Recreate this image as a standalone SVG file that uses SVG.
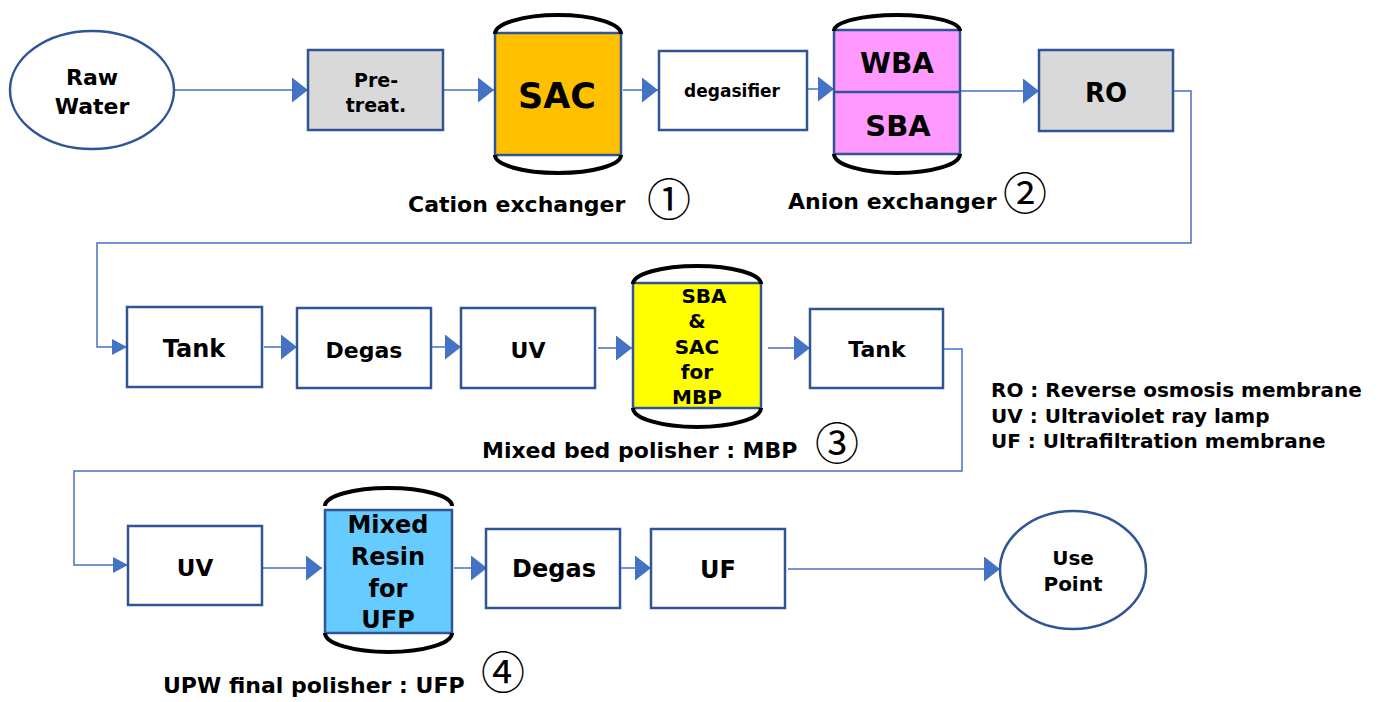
<svg xmlns="http://www.w3.org/2000/svg" width="1381" height="702" viewBox="0 0 1381 702">
<style>
text{font-family:"DejaVu Sans","Liberation Sans",sans-serif;font-weight:bold;fill:#000}
.c{text-anchor:middle}
.box{stroke:#2f5597;stroke-width:2.5}
.w{fill:#fff}
.g{fill:#d9d9d9}
.arc{fill:none;stroke:#000;stroke-width:4}
.con{fill:none;stroke:#4472c4;stroke-width:1.5}
.num{font-family:"Noto Sans CJK JP","DejaVu Sans",sans-serif;font-weight:normal;font-size:44px;text-anchor:middle}
</style>
<defs>
<marker id="arr" markerUnits="userSpaceOnUse" viewBox="0 0 16 25" refX="16" refY="12.5" markerWidth="16" markerHeight="25" orient="auto"><path d="M0,0 L16,12.5 L0,25 Z" fill="#4472c4"/></marker>
<marker id="arrS" markerUnits="userSpaceOnUse" viewBox="0 0 15 16" refX="15" refY="8" markerWidth="15" markerHeight="16" orient="auto"><path d="M0,0 L15,8 L0,16 Z" fill="#4472c4"/></marker>
</defs>
<rect width="1381" height="702" fill="#fff"/>
<g id="connectors">
<path class="con" d="M174,90 H308" marker-end="url(#arr)"/>
<path class="con" d="M443,90 H494" marker-end="url(#arr)"/>
<path class="con" d="M623,90 H658" marker-end="url(#arr)"/>
<path class="con" d="M795,89 H834" marker-end="url(#arr)"/>
<path class="con" d="M960,91 H1039" marker-end="url(#arr)"/>
<path class="con" d="M1173,91 H1191 V243 H97 V347 H127" marker-end="url(#arrS)"/>
<path class="con" d="M264,347 H297" marker-end="url(#arr)"/>
<path class="con" d="M431,347 H461" marker-end="url(#arr)"/>
<path class="con" d="M598,348 H632" marker-end="url(#arr)"/>
<path class="con" d="M768,348 H810" marker-end="url(#arr)"/>
<path class="con" d="M943,349 H962 V471 H74 V565 H128" marker-end="url(#arrS)"/>
<path class="con" d="M262,568 H322" marker-end="url(#arr)"/>
<path class="con" d="M454,568 H487" marker-end="url(#arr)"/>
<path class="con" d="M620,568 H651" marker-end="url(#arr)"/>
<path class="con" d="M788,569 H1000" marker-end="url(#arr)"/>
</g>
<g id="raw-water">
<ellipse class="box w" cx="92" cy="90" rx="82" ry="59"/>
<text class="c" x="92" y="85" font-size="22">Raw</text>
<text class="c" x="92" y="114" font-size="22">Water</text>
</g>
<g id="pretreat">
<rect class="box g" x="308" y="50" width="135" height="80"/>
<text class="c" x="376" y="87" font-size="19">Pre-</text>
<text class="c" x="376" y="112" font-size="19">treat.</text>
</g>
<g id="sac">
<rect class="box" fill="#ffc000" x="495" y="33" width="126" height="122"/>
<path class="arc" d="M495,34 A63,19 0 0 1 621,34"/>
<path class="arc" d="M495,155 A63,18 0 0 0 621,155"/>
<text class="c" x="557" y="108" font-size="35">SAC</text>
</g>
<g id="degasifier">
<rect class="box w" x="659" y="51" width="148" height="79"/>
<text class="c" x="732" y="97" font-size="17">degasifier</text>
</g>
<g id="wba-sba">
<rect class="box" fill="#ff99ff" x="834" y="30" width="126" height="124"/>
<line class="box" x1="834" y1="92" x2="960" y2="92"/>
<path class="arc" d="M834,31 A63,16 0 0 1 960,31"/>
<path class="arc" d="M834,154 A63,19 0 0 0 960,154"/>
<text class="c" x="897" y="73" font-size="28">WBA</text>
<text class="c" x="898" y="136" font-size="29">SBA</text>
</g>
<g id="ro">
<rect class="box g" x="1039" y="50" width="134" height="81"/>
<text class="c" x="1106" y="102" font-size="26">RO</text>
</g>
<g id="tank1">
<rect class="box w" x="127" y="307" width="135" height="80"/>
<text class="c" x="194" y="357" font-size="24">Tank</text>
</g>
<g id="degas1">
<rect class="box w" x="297" y="308" width="134" height="80"/>
<text class="c" x="364" y="358" font-size="22">Degas</text>
</g>
<g id="uv1">
<rect class="box w" x="461" y="308" width="134" height="80"/>
<text class="c" x="528" y="358" font-size="22">UV</text>
</g>
<g id="mbp">
<rect class="box" fill="#ffff00" x="633" y="283" width="128" height="125"/>
<path class="arc" d="M633,284 A64,18 0 0 1 761,284"/>
<path class="arc" d="M633,408 A64,19 0 0 0 761,408"/>
<text class="c" x="704" y="303" font-size="20">SBA</text>
<text class="c" x="697" y="328" font-size="20">&amp;</text>
<text class="c" x="697" y="354" font-size="20">SAC</text>
<text class="c" x="697" y="379" font-size="20">for</text>
<text class="c" x="697" y="404" font-size="20">MBP</text>
</g>
<g id="tank2">
<rect class="box w" x="810" y="309" width="133" height="79"/>
<text class="c" x="877" y="357" font-size="22">Tank</text>
</g>
<g id="uv2">
<rect class="box w" x="128" y="526" width="134" height="79"/>
<text class="c" x="195" y="576" font-size="23">UV</text>
</g>
<g id="ufp">
<rect class="box" fill="#66ccff" x="325" y="510" width="127" height="123"/>
<path class="arc" d="M325,506 A63.5,18 0 0 1 452,506"/>
<path class="arc" d="M325,633 A63.5,19 0 0 0 452,633"/>
<text class="c" x="388" y="533" font-size="24">Mixed</text>
<text class="c" x="388" y="565" font-size="24">Resin</text>
<text class="c" x="388" y="597" font-size="24">for</text>
<text class="c" x="388" y="628" font-size="24">UFP</text>
</g>
<g id="degas2">
<rect class="box w" x="486" y="529" width="134" height="79"/>
<text class="c" x="554" y="577" font-size="24">Degas</text>
</g>
<g id="uf">
<rect class="box w" x="651" y="529" width="134" height="79"/>
<text class="c" x="718" y="578" font-size="24">UF</text>
</g>
<g id="use-point">
<ellipse class="box w" cx="1073" cy="570" rx="73" ry="59"/>
<text class="c" x="1073" y="565" font-size="20">Use</text>
<text class="c" x="1073" y="591" font-size="20">Point</text>
</g>
<g id="labels">
<text x="408" y="212" font-size="22">Cation exchanger</text>
<text class="num" x="669" y="216">①</text>
<text x="788" y="209" font-size="22">Anion exchanger</text>
<text class="num" x="1025" y="210">②</text>
<text x="482" y="458" font-size="22">Mixed bed polisher : MBP</text>
<text class="num" x="837" y="460">③</text>
<text x="163" y="693" font-size="22">UPW final polisher : UFP</text>
<text class="num" x="503" y="689" font-size="40">④</text>
</g>
<g id="legend">
<text x="991" y="397" font-size="20">RO : Reverse osmosis membrane</text>
<text x="991" y="423" font-size="20">UV : Ultraviolet ray lamp</text>
<text x="991" y="448" font-size="20">UF : Ultrafiltration membrane</text>
</g>
</svg>
